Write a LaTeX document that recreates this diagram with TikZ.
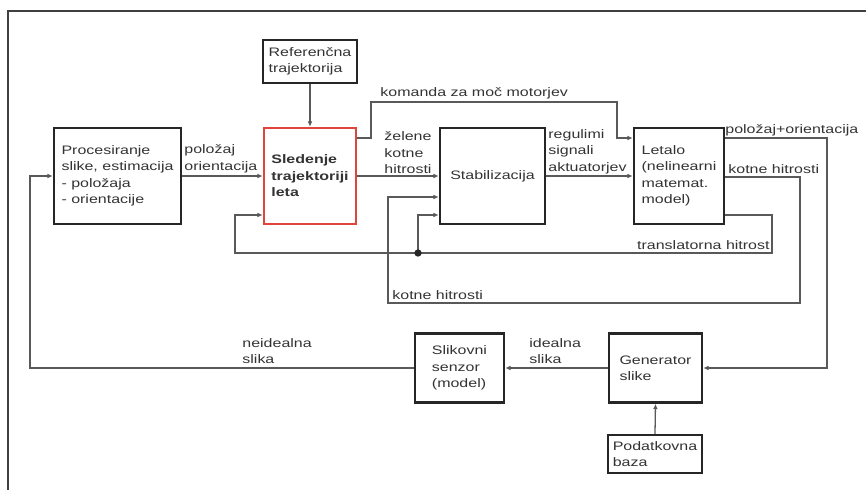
\documentclass[tikz,border=0pt]{standalone}
\usepackage{fontspec}
\setmainfont{Liberation Sans}[FakeStretch=1.3]
\usepackage{tikz}
\usetikzlibrary{arrows.meta}

\definecolor{trkred}{HTML}{E0453C}

\begin{document}
\begin{tikzpicture}[x=0.3mm,y=-0.3mm,>={Latex[length=1.6mm,width=1.4mm]},
  blk/.style={draw=black!85,line width=2.1pt,fill=white,align=left,inner sep=2pt,font=\fontsize{10.5}{14}\selectfont,text=black!80},
  lbl/.style={inner sep=1pt,align=left,font=\fontsize{10.5}{14}\selectfont,text=black!80},
  conn/.style={draw=black!65,line width=1.1pt}]
\useasboundingbox (0,0) rectangle (866,490);
\draw[black!75,line width=1.8pt] (8,490) -- (8,11) -- (866,11);

\node[blk,minimum width=38.1mm,minimum height=28.8mm] (fc_proc) at (117.5,176) {Procesiranje\\slike, estimacija\\- položaja\\- orientacije};
\node[blk,draw=trkred,minimum width=27.6mm,minimum height=28.8mm,font=\fontsize{10.5}{14}\selectfont\bfseries] (fc_sled) at (310,176) {Sledenje\\trajektoriji\\leta};
\node[blk,minimum width=28.2mm,minimum height=12.9mm] (fc_ref) at (310,61.5) {Referenčna\\trajektorija};
\node[blk,minimum width=31.5mm,minimum height=28.8mm] (fc_stab) at (492.5,176) {Stabilizacija};
\node[blk,minimum width=27mm,minimum height=28.8mm] (fc_let) at (679,176) {Letalo\\(nelinearni\\matemat.\\model)};
\node[blk,minimum width=26.7mm,minimum height=20.7mm] (fc_senz) at (459.5,368) {Slikovni\\senzor\\(model)};
\node[blk,minimum width=27.9mm,minimum height=20.7mm] (fc_gen) at (655.5,368) {Generator\\slike};
\node[blk,minimum width=28.2mm,minimum height=11.4mm] (fc_baza) at (655,454) {Podatkovna\\baza};
\coordinate (fc_dot) at (418,253);

\draw[conn,->] (fc_ref.south) -- (fc_sled.north);
\draw[conn,->] (fc_proc.east) -- (fc_sled.west);
\draw[conn,->] (fc_sled.east) -- (fc_stab.west);
\draw[conn,->] (fc_stab.east) -- (fc_let.west);
\draw[conn,->] (fc_sled.east |- 0,138) -| (371,102) -| (617,138) -- (fc_let.west |- 0,138);
\draw[conn,->] (fc_let.east |- 0,138) -| (827,368) -- (fc_gen.east);
\draw[conn,->] (fc_let.east |- 0,177) -| (800,303) -| (388,197) -- (fc_stab.west |- 0,197);
\draw[conn,->] (fc_let.east |- 0,215) -| (772,253) -| (235,215) -- (fc_sled.west |- 0,215);
\draw[conn,->] (fc_dot) |- (fc_stab.west |- 0,215);
\fill[black!85] (fc_dot) circle (1.1mm);
\draw[conn,->] (fc_gen.west) -- (fc_senz.east);
\draw[conn,->] (fc_senz.west) -| (30,176) -- (fc_proc.west);
\draw[conn,->] (fc_baza.north) -- (fc_gen.south);

\node[lbl,anchor=south west] (l_poz) at (183,174) {položaj\\orientacija};
\node[lbl,anchor=south west] (l_zel) at (383,175) {želene\\kotne\\hitrosti};
\node[lbl,anchor=south west] (l_reg) at (547,175) {regulimi\\signali\\aktuatorjev};
\node[lbl,anchor=south west] (l_kom) at (379,100) {komanda za moč motorjev};
\node[lbl,anchor=south west] (l_por) at (724,137) {položaj+orientacija};
\node[lbl,anchor=south west] (l_kot) at (727,175) {kotne hitrosti};
\node[lbl,anchor=south east] (l_tra) at (771,251) {translatorna hitrost};
\node[lbl,anchor=south west] (l_kot2) at (391,301) {kotne hitrosti};
\node[lbl,anchor=south west] (l_nei) at (241,365) {neidealna\\slika};
\node[lbl,anchor=south west] (l_ide) at (528,365) {idealna\\slika};
\end{tikzpicture}
\end{document}
